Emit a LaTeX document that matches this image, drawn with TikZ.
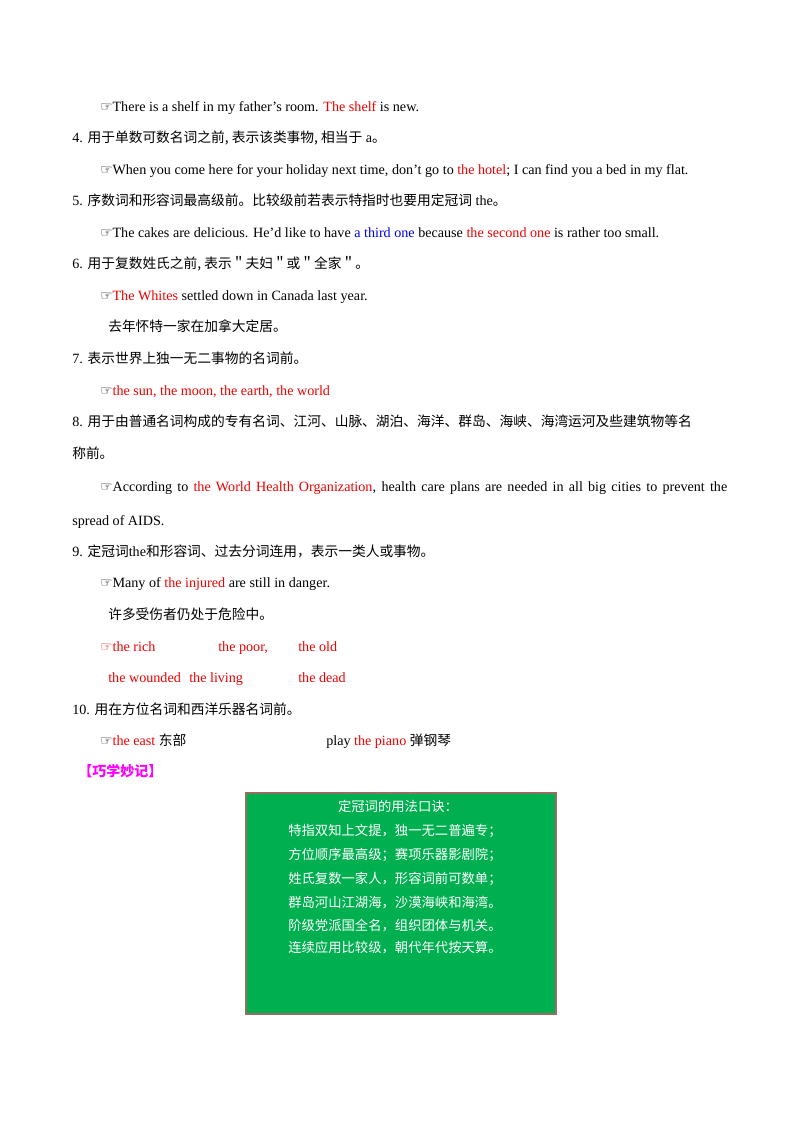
\documentclass[tikz,border=0pt]{standalone}
\usepackage{fontspec}
\setmainfont{Liberation Serif}
\newfontfamily\cjk{Noto Sans CJK SC}
\newfontfamily\sym{DejaVu Sans}
\definecolor{rd}{RGB}{240,0,0}
\definecolor{bl}{RGB}{0,0,240}
\definecolor{mg}{RGB}{255,0,255}
\definecolor{gbox}{RGB}{0,176,80}
\definecolor{gbrd}{RGB}{150,110,100}
\newcommand{\hand}{{\sym\fontsize{10.3}{12}\selectfont ☞}}
\newcommand{\zh}[1]{{\cjk\fontsize{10.3}{12}\selectfont #1}}
\begin{document}
\begin{tikzpicture}[x=0.75pt,y=-0.75pt,
  t/.style={anchor=base west,inner sep=0pt,font=\fontsize{10.6}{12}\selectfont},
  bt/.style={anchor=base west,inner sep=0pt,text=white,font=\cjk\fontsize{10}{12}\selectfont}]
\useasboundingbox (0,0) rectangle (800,1132);
\node[t] (l1) at (100,111) {\hand There is a shelf in my father’s room. \textcolor{rd}{The shelf} is new.};
\node[t] (l2) at (72,142) {4. \zh{用于单数可数名词之前, 表示该类事物, 相当于}\ a\zh{。}};
\node[t] (l3) at (100,174) {\hand When you come here for your holiday next time, don’t go to \textcolor{rd}{the hotel}; I can find you a bed in my flat.};
\node[t] (l4) at (72,205) {5. \zh{序数词和形容词最高级前。比较级前若表示特指时也要用定冠词}\ the\zh{。}};
\node[t] (l5) at (100,237) {\hand The cakes are delicious. He’d like to have \textcolor{bl}{a third one} because \textcolor{rd}{the second one} is rather too small.};
\node[t] (l6) at (72,268) {6. \zh{用于复数姓氏之前, 表示＂夫妇＂或＂全家＂。}};
\node[t] (l7) at (100,300) {\hand\textcolor{rd}{The Whites} settled down in Canada last year.};
\node[t] (l8) at (108,331) {\zh{去年怀特一家在加拿大定居。}};
\node[t] (l9) at (72,363) {7. \zh{表示世界上独一无二事物的名词前。}};
\node[t] (l10) at (100,395) {\hand\textcolor{rd}{the sun, the moon, the earth, the world}};
\node[t] (l11) at (72,426) {8. \zh{用于由普通名词构成的专有名词、江河、山脉、湖泊、海洋、群岛、海峡、海湾运河及些建筑物等名}};
\node[t] (l12) at (72,458) {\zh{称前。}};
\node[t] (l13) at (100,491) {\makebox[627\dimexpr0.75pt][s]{\hand According to \textcolor{rd}{the World Health Organization}, health care plans are needed in all big cities to prevent the}};
\node[t] (l14) at (72,525) {spread of AIDS.};
\node[t] (l15) at (72,556) {9. \zh{定冠词}the\zh{和形容词、过去分词连用，表示一类人或事物。}};
\node[t] (l16) at (100,587) {\hand Many of \textcolor{rd}{the injured} are still in danger.};
\node[t] (l17) at (108,619) {\zh{许多受伤者仍处于危险中。}};
\node[t,text=rd] (l18) at (100,651) {\hand the rich};
\node[t,text=rd] (l19) at (218,651) {the poor,};
\node[t,text=rd] (l20) at (298,651) {the old};
\node[t,text=rd] (l21) at (108,682) {the wounded};
\node[t,text=rd] (l22) at (189,682) {the living};
\node[t,text=rd] (l23) at (298,682) {the dead};
\node[t] (l24) at (72,714) {10. \zh{用在方位名词和西洋乐器名词前。}};
\node[t] (l25) at (100,745) {\hand\textcolor{rd}{the east} \zh{东部}};
\node[t] (l26) at (326,745) {play \textcolor{rd}{the piano} \zh{弹钢琴}};
\node[t,text=mg,font=\cjk\bfseries\fontsize{10.5}{12}\selectfont] (h) at (78,776) {【巧学妙记】};
\node[draw=gbrd,line width=1.2pt,fill=gbox,minimum width=310*0.75pt,minimum height=221*0.75pt,anchor=north west,inner sep=0pt] (box) at (245,792) {};
\node[bt,anchor=base] (b0) at (398,811) {定冠词的用法口诀：};
\node[bt] (b1) at (288,835) {特指双知上文提，独一无二普遍专；};
\node[bt] (b2) at (288,859) {方位顺序最高级；赛项乐器影剧院；};
\node[bt] (b3) at (288,883) {姓氏复数一家人，形容词前可数单；};
\node[bt] (b4) at (288,907) {群岛河山江湖海，沙漠海峡和海湾。};
\node[bt] (b5) at (288,930) {阶级党派国全名，组织团体与机关。};
\node[bt] (b6) at (288,952) {连续应用比较级，朝代年代按天算。};
\end{tikzpicture}
\end{document}
